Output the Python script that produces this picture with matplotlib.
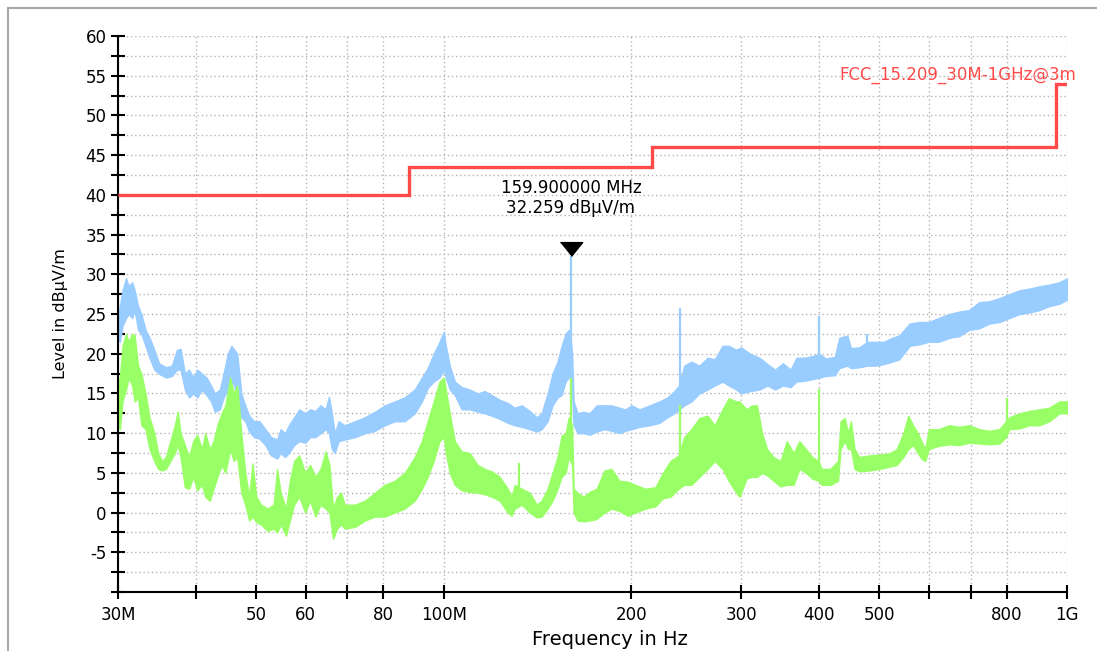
import numpy as np
import matplotlib.pyplot as plt
from matplotlib.ticker import FixedLocator, FixedFormatter, MultipleLocator
from matplotlib.lines import Line2D
from matplotlib.transforms import ScaledTranslation

# peak trace (blue): frequency in MHz, lower / upper edge of the trace in dBuV/m
pk_freq = [30.0, 30.2, 30.5, 30.9, 31.2, 31.6, 31.9, 32.3, 32.7, 33.2, 33.7, 34.3, 34.9, 35.8, 36.6,
           37.3, 37.8, 38.4, 39.0, 39.6, 40.2, 40.9, 41.6, 42.3, 42.9, 43.7, 44.3, 45.0, 45.6, 46.1,
           46.6, 47.3, 48.0, 48.7, 49.6, 50.6, 51.7, 52.8, 54.0, 54.7, 55.6, 56.4, 57.5, 58.6, 59.9,
           61.0, 62.2, 63.4, 64.6, 65.4, 66.1, 66.8, 67.8, 69.3, 72.0, 74.7, 77.5, 80.4, 83.4, 86.5,
           89.8, 92.2, 94.2, 96.3, 98.4, 100.0, 100.7, 102.2, 104.1, 106.8, 110.0, 113.3, 116.3, 119.3,
           122.9, 126.6, 129.9, 133.3, 137.3, 140.9, 143.5, 146.7, 149.4, 152.2, 154.5, 156.8, 158.6,
           159.7, 160.6, 161.5, 163.9, 167.5, 171.3, 175.8, 181.0, 185.8, 191.3, 195.6, 200.0, 206.0,
           214.0, 221.8, 228.4, 234.3, 238.5, 243.0, 249.6, 257.0, 265.0, 272.0, 280.0, 286.5, 294.5,
           300.0, 310.0, 321.0, 330.5, 340.0, 350.0, 360.0, 368.0, 379.0, 390.0, 400.0, 410.0, 424.0,
           431.0, 444.0, 450.0, 464.0, 478.0, 493.0, 508.0, 524.0, 538.0, 559.0, 580.0, 600.0, 622.0,
           647.0, 671.0, 696.0, 723.0, 750.0, 779.0, 808.0, 839.0, 870.0, 903.0, 936.0, 972.0, 1000.0]
pk_lo = [22, 21.5, 23.5, 24.5, 25, 24.5, 25.5, 23, 22.5, 21, 19.5, 18, 17.5, 17, 17.2,
         18, 18, 15.5, 14.5, 15, 14.5, 15.5, 14.8, 14, 12.7, 13, 14.5, 15.5, 16.5, 16,
         14, 12, 11.5, 10.2, 9.5, 9.3, 8.5, 7.2, 6.8, 7.5, 7.0, 7.5, 8.5, 9, 8.8,
         9.5, 9.5, 10, 10.5, 10, 8, 7.5, 9, 9.2, 9.5, 10, 10.3, 11, 11.5, 11.5,
         12.5, 14, 15.7, 16.5, 17, 18, 17, 15.5, 14.8, 13, 13, 12.7, 12.5, 12.2,
         11.8, 11.3, 11, 10.8, 10.5, 10.2, 10.5, 11.5, 13.5, 14.5, 14.8, 16.5, 17,
         17, 15, 11, 10, 10, 9.8, 10.2, 10.5, 10.3, 10, 10.3, 10.5, 10.8,
         11, 11.3, 12, 12.5, 13, 13.5, 14, 15, 15.5, 16, 16.5, 16, 15.5,
         15, 15.3, 15.5, 16, 15.5, 16, 15.8, 16.5, 16.6, 16.8, 17, 17.2, 17.3,
         18.2, 18.5, 18.2, 18.3, 18.5, 18.5, 18.7, 19, 19.3, 21, 21.2, 21.5, 21.5,
         22, 22.2, 23, 23.2, 23.8, 24, 24.5, 25, 25.2, 25.5, 26, 26.3, 26.8]
pk_hi = [25, 26, 28, 29.5, 28.5, 29, 28, 26, 25, 23, 22, 20.5, 18.8, 18.3, 18.5,
         20.5, 20.6, 17.5, 18, 17, 18, 17.5, 17, 16, 15, 15.5, 17.5, 20, 21, 20.5,
         20, 15, 13.5, 12.2, 11.5, 11.5, 10.5, 9.5, 9.2, 10.5, 10, 11, 12, 13, 12.5,
         13, 12.8, 13.5, 13, 14.6, 12.5, 10, 11.5, 11, 11.5, 12, 12.7, 13.5, 14, 14.5,
         15.5, 17, 18.2, 20, 21.5, 22.8, 21, 18.5, 16.5, 15.8, 15.5, 15, 15.3, 14.8,
         14.2, 13.8, 13.2, 13.5, 12.8, 12, 12.5, 15, 17.5, 19, 21, 22.5, 23,
         22, 20, 14, 12.5, 12.7, 12.5, 13.5, 13.5, 13.5, 13.2, 13, 13.5, 13,
         13.5, 14, 14.5, 15.3, 16, 18.5, 19, 18.5, 19.5, 19.3, 21, 21, 20.5,
         20.8, 20, 19.5, 18.7, 18, 18.8, 18, 19.5, 19.5, 19.7, 20, 19.4, 19.6,
         22, 22.3, 20.7, 20.8, 21.5, 21.5, 21.5, 22, 22.3, 23.8, 24, 24, 24.5,
         25, 25.3, 25.5, 26.5, 26.6, 27, 27.5, 28, 28.2, 28.5, 28.7, 29, 29.5]
pk_spike_freq = [159.9, 239.5, 400.0, 478.0]
pk_spike_top = [32.259, 25.7, 24.7, 22.5]

# average trace (green)
av_freq = [30.0, 30.2, 30.5, 30.9, 31.2, 31.6, 31.9, 32.3, 32.7, 33.2, 33.7, 34.3, 34.8, 35.3, 35.8,
           36.4, 37.0, 37.4, 37.8, 38.4, 39.0, 39.6, 40.2, 40.9, 41.4, 42.1, 42.7, 43.3, 44.0, 44.6,
           45.4, 46.0, 46.6, 47.3, 48.0, 48.7, 49.3, 50.0, 50.9, 52.1, 53.3, 54.0, 54.7, 55.8, 56.6,
           57.5, 58.6, 59.9, 61.0, 62.2, 63.4, 64.6, 65.5, 66.4, 67.4, 68.4, 69.3, 72.0, 74.7, 77.5,
           80.4, 83.4, 86.5, 89.8, 92.2, 94.2, 96.3, 98.4, 100.0, 100.7, 102.2, 104.1, 106.8, 110.0,
           113.3, 116.3, 119.3, 122.9, 126.6, 128.4, 129.9, 133.3, 137.3, 140.9, 143.5, 146.7, 149.4,
           152.2, 154.5, 156.8, 158.6, 160.6, 161.5, 163.9, 167.5, 171.3, 175.8, 181.0, 185.8, 191.3,
           197.3, 202.6, 210.6, 218.6, 224.5, 231.0, 238.0, 243.0, 249.6, 257.0, 265.0, 272.0, 280.0,
           286.5, 294.5, 298.0, 306.0, 312.0, 318.0, 324.0, 330.0, 338.0, 347.0, 355.0, 364.0, 372.0,
           381.0, 390.0, 399.0, 404.0, 417.0, 429.0, 433.0, 440.0, 445.0, 450.0, 456.0, 464.0, 481.0,
           500.0, 520.0, 533.0, 546.0, 556.0, 566.0, 576.0, 584.0, 592.0, 600.0, 622.0, 647.0, 671.0,
           696.0, 723.0, 750.0, 779.0, 798.0, 808.0, 839.0, 870.0, 903.0, 936.0, 972.0, 1000.0]
av_lo = [11, 10.5, 14, 15.5, 17, 16, 14, 14.5, 11, 10.5, 8, 6.5, 5.5, 5.3, 5.5,
         6.5, 7.5, 8.5, 7, 3.2, 3, 4.5, 2.8, 3.5, 2, 1.5, 3, 4.5, 6, 5,
         8, 6.5, 7, 2.5, 1, -1, -0.5, -1.2, -1.5, -2.3, -2, -2.5, -1.5, -2.9, -1,
         1, 2, 0, 1.5, -0.5, 1, 0.5, 0, -3.3, -2, -1.5, -2, -1.8, -1, -0.5,
         -0.5, 0, 0.5, 1.5, 3, 4.5, 6.5, 9, 9.5, 7.5, 5, 3.5, 2.8, 2.6,
         2.5, 2.3, 2, 1.5, 0, -0.4, 0.5, 1, 0, -0.6, -0.5, 0.5, 1.5,
         3, 4.5, 5, 7, 6, 0, -1, -1.1, -1, -0.8, 0, 0.5, 0.2,
         -0.4, 0, 0.5, 0.8, 1.8, 2, 3, 3.5, 3.5, 4.5, 5.5, 6.5, 5.5,
         4, 2.5, 2, 4.3, 4.5, 4.5, 5, 4.7, 4, 3.3, 3.5, 3.5, 5.5,
         5, 4.3, 4, 3.5, 3.5, 4, 8, 9, 8, 8, 5.5, 5.2, 5.3,
         5.5, 5.8, 6, 7, 8, 8.5, 7.5, 6.8, 6.5, 8, 8.4, 8.6, 8.5,
         8.8, 8.7, 8.6, 8.7, 9.5, 10.5, 10.6, 11, 11, 11.5, 12.5, 12.5]
av_hi = [16.5, 17, 21, 22.5, 21.5, 22.5, 22.3, 18.5, 17.5, 15, 12, 10, 7.5, 6.5, 7,
         9, 11, 12.7, 10, 8.5, 7, 9, 9.8, 8, 10, 8, 9, 11, 12.5, 13.5,
         17, 15, 16, 10, 5, 2, 6.2, 2, 1, 0.5, 1, 5.5, 2.5, 0.5, 4,
         6.5, 7.2, 5, 6, 4.5, 5.5, 7.7, 6, 0.5, 2, 2.5, 1, 1, 1.5, 2.5,
         3.5, 4, 5, 7, 9, 11.5, 14, 16.5, 17, 15.5, 12.5, 9, 7.7, 7.5,
         6, 5.5, 5.2, 4.5, 3, 2, 3.5, 3, 2.5, 1, 1.5, 3, 5,
         7, 9.7, 10, 12, 11, 3, 2.5, 2, 2.6, 3, 5.3, 5.5, 4,
         3.9, 3.5, 3, 3.2, 5, 6.5, 7.2, 9.5, 10.5, 11.9, 12.2, 11, 13,
         14.4, 14, 14, 13, 13.5, 13.5, 10, 8, 7, 6.5, 9, 7.5, 9,
         8, 7, 6.5, 5.5, 5.5, 6.5, 11.5, 11.9, 10, 11.5, 8, 7, 7.2,
         7.3, 7.5, 8, 10, 12.2, 11, 10, 9, 8, 10.5, 10.5, 11, 10.8,
         11, 10.5, 10.3, 10.5, 11.5, 12, 12.5, 12.8, 13, 13.2, 14, 14]
av_spike_freq = [131.8, 159.7, 239.5, 400.0, 800.0]
av_spike_top = [6.2, 16.9, 13.5, 15.6, 14.4]

# FCC 15.209 limit line (step edges in MHz, level per step)
lim_edges = [30, 88, 216, 960, 1000]
lim_level = [40, 43.5, 46, 54]
lim_name = 'FCC_15.209_30M-1GHz@3m'

marker_freq = 159.9
marker_level = 32.259

xtick_pos = [30, 40, 50, 60, 70, 80, 100, 200, 300, 400, 500, 600, 700, 800, 1000]
xtick_lab = ['30M', '', '50', '60', '', '80', '100M', '200', '300', '400', '500', '', '', '800', '1G']

blue = '#99ccff'
green = '#99ff66'
red = '#ff4a4a'

fig = plt.figure(figsize=(10.97, 6.51), dpi=100)
ax = fig.add_axes([0.1076, 0.0906, 0.8651, 0.854])


def draw_trace(f, lo, hi, sf, st, col):
    ax.fill_between(f, lo, hi, color=col, edgecolor=col, linewidth=1.0, zorder=2)
    mid = (np.array(lo) + np.array(hi)) / 2
    base = np.interp(np.log10(sf), np.log10(f), mid)
    ax.vlines(sf, base, st, color=col, linewidth=1.6, zorder=2)


draw_trace(pk_freq, pk_lo, pk_hi, pk_spike_freq, pk_spike_top, blue)
draw_trace(av_freq, av_lo, av_hi, av_spike_freq, av_spike_top, green)

ax.stairs(lim_level, lim_edges, baseline=None, color=red, linewidth=2.4, zorder=3)
ax.annotate(lim_name, xy=(lim_edges[-1], lim_level[-1]), xytext=(6.5, 6.5),
            textcoords='offset points', ha='right', va='center', color=red,
            fontsize=12, annotation_clip=False)

tri = [(-1, 0.62), (1, 0.62), (0, -0.62)]
ax.plot([marker_freq], [marker_level], marker=tri, markersize=16, color='black',
        linestyle='none', zorder=4,
        transform=ax.transData + ScaledTranslation(0, 5.5 / 72, fig.dpi_scale_trans))
ax.annotate('%.6f MHz\n%.3f dBµV/m' % (marker_freq, marker_level),
            xy=(marker_freq, marker_level), xytext=(0, 42), textcoords='offset points',
            ha='center', va='center', fontsize=12, linespacing=1.2)

ax.set_xscale('log')
ax.set_xlim(30, 1000)
ax.set_ylim(-10, 60)
ax.xaxis.set_major_locator(FixedLocator(xtick_pos))
ax.xaxis.set_major_formatter(FixedFormatter(xtick_lab))
ax.xaxis.set_minor_locator(FixedLocator([]))
ax.yaxis.set_major_locator(MultipleLocator(5))
ax.yaxis.set_minor_locator(MultipleLocator(2.5))
ax.set_yticklabels(['' if v < -7 else '%d' % v for v in ax.get_yticks()])

ax.tick_params(which='both', direction='inout', length=9.5, width=1.5, labelsize=12)
ax.tick_params(axis='y', pad=3.5)
ax.tick_params(axis='x', pad=5)
ax.grid(which='both', color='#b4b4b4', linestyle=(0, (1, 2)), linewidth=1.0, zorder=0)
ax.set_axisbelow(True)
for s in ['top', 'right']:
    ax.spines[s].set_visible(False)
for s in ['left', 'bottom']:
    ax.spines[s].set_linewidth(1.5)

fig.text(60 / 1097, 0.5 + (651 / 2 - 314) / 651, 'Level in dBµV/m', rotation=90,
         ha='center', va='center', fontsize=11.5)
fig.text(610 / 1097, 1 - 649 / 651, 'Frequency in Hz', ha='center', va='bottom', fontsize=14)

# window frame (top and left edges visible in the screenshot)
fig.add_artist(Line2D([8 / 1097, 8 / 1097], [0, 1 - 8 / 651], color='#a8a8a8', linewidth=1.5))
fig.add_artist(Line2D([8 / 1097, 1], [1 - 8 / 651, 1 - 8 / 651], color='#a8a8a8', linewidth=1.5))

fig.savefig('out.png', dpi=100)
